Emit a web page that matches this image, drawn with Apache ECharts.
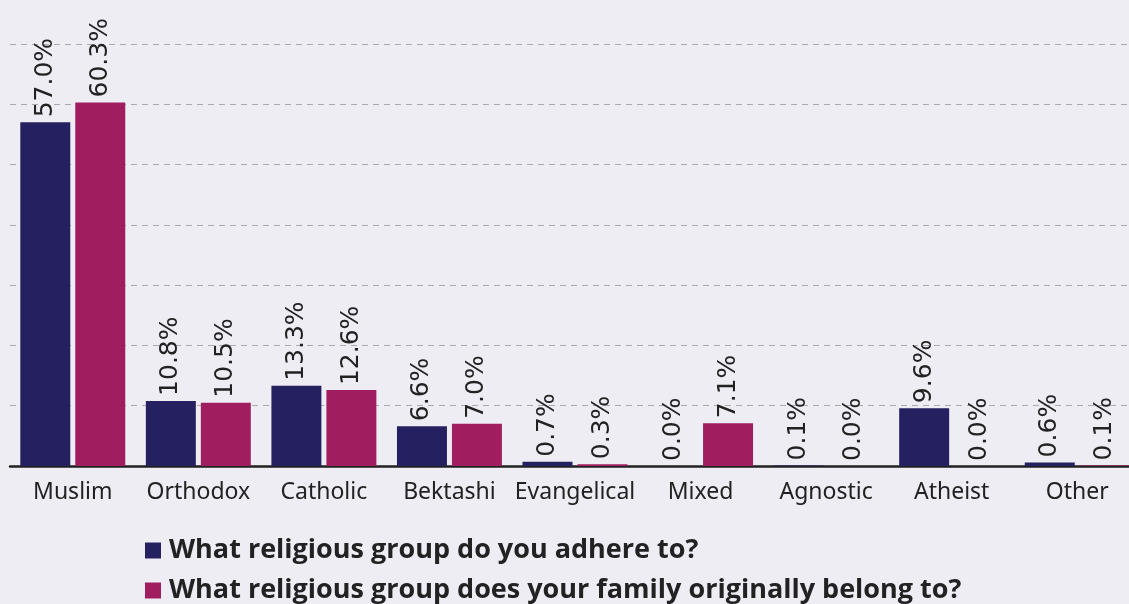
<!DOCTYPE html>
<html>
<head>
<meta charset="utf-8">
<script src="https://cdn.jsdelivr.net/npm/echarts@6/dist/echarts.min.js"></script>
<style>
html,body{margin:0;padding:0;background:#efedf4;}
#c{width:1129px;height:604px;}
</style>
</head>
<body>
<div id="c"></div>
<script>
const categories = ['Muslim','Orthodox','Catholic','Bektashi','Evangelical','Mixed','Agnostic','Atheist','Other'];
const adhere = [57.0, 10.8, 13.3, 6.6, 0.7, 0.0, 0.1, 9.6, 0.6];
const family = [60.3, 10.5, 12.6, 7.0, 0.3, 7.1, 0.0, 0.0, 0.1];
const seriesNames = ['What religious group do you adhere to?','What religious group does your family originally belong to?'];
const yTicks = [0,10,20,30,40,50,60,70];

const chart = echarts.init(document.getElementById('c'), null, {renderer:'canvas'});
const labelCfg = {
  show:true, position:'top', rotate:90, align:'left', verticalAlign:'middle', distance:5,
  fontFamily:'DejaVu Sans', fontSize:25, color:'#222',
  formatter: p => p.value.toFixed(1) + '%'
};
chart.setOption({
  backgroundColor:'#efedf4',
  animation:false,
  grid:{left:10, width:1130, top:44, bottom:138, containLabel:false, outerBoundsMode:'none'},
  legend:{
    orient:'vertical', left:145, top:537, height:70, padding:0,
    itemWidth:16, itemHeight:16, itemGap:13,
    icon:'rect',
    textStyle:{fontFamily:'Open Sans', fontWeight:'bold', fontSize:27, color:'#222', padding:[0,0,0,3]},
    data: seriesNames
  },
  xAxis:{
    type:'category', data:categories,
    axisLine:{lineStyle:{color:'#222', width:2.5}},
    axisTick:{show:false},
    axisLabel:{fontFamily:'Noto Sans', fontSize:23, color:'#222', margin:15, interval:0}
  },
  yAxis:{
    type:'value', min:yTicks[0], max:yTicks[yTicks.length-1], interval:10,
    axisLabel:{show:false}, axisLine:{show:false}, axisTick:{show:false},
    splitLine:{lineStyle:{color:'#aaaaaa', type:[6,5], width:1.2}}
  },
  series:[
    {name:seriesNames[0], type:'bar', data:adhere, barGap:'10%', barCategoryGap:'16.4%',
     itemStyle:{color:'#252060'}, label:labelCfg},
    {name:seriesNames[1], type:'bar', data:family,
     itemStyle:{color:'#a01e5f'}, label:labelCfg}
  ]
});
</script>
</body>
</html>
